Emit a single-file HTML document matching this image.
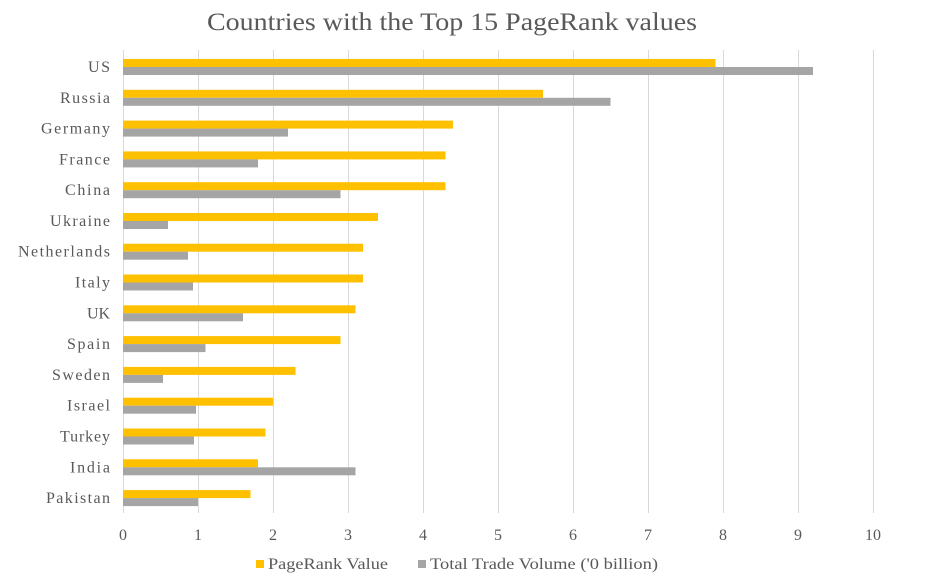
<!DOCTYPE html>
<html><head><style>body{margin:0;background:#fff}svg{display:block}text{font-family:"Liberation Serif",serif;fill:#595959}</style></head><body>
<svg width="925" height="584" viewBox="0 0 925 584">
<text x="207" y="30" font-size="25" textLength="490" lengthAdjust="spacingAndGlyphs">Countries with the Top 15 PageRank values</text>
<g stroke="#d9d9d9" stroke-width="1">
<line x1="123.5" y1="50" x2="123.5" y2="513"/><line x1="198.5" y1="50" x2="198.5" y2="513"/><line x1="273.5" y1="50" x2="273.5" y2="513"/><line x1="348.5" y1="50" x2="348.5" y2="513"/><line x1="423.5" y1="50" x2="423.5" y2="513"/><line x1="498.5" y1="50" x2="498.5" y2="513"/><line x1="573.5" y1="50" x2="573.5" y2="513"/><line x1="648.5" y1="50" x2="648.5" y2="513"/><line x1="723.5" y1="50" x2="723.5" y2="513"/><line x1="798.5" y1="50" x2="798.5" y2="513"/><line x1="873.5" y1="50" x2="873.5" y2="513"/>
</g>
<g fill="#ffc000">
<rect x="123" y="59" width="592.5" height="8"/><rect x="123" y="89.8" width="420" height="8"/><rect x="123" y="120.6" width="330" height="8"/><rect x="123" y="151.4" width="322.5" height="8"/><rect x="123" y="182.2" width="322.5" height="8"/><rect x="123" y="213" width="255" height="8"/><rect x="123" y="243.7" width="240" height="8"/><rect x="123" y="274.5" width="240" height="8"/><rect x="123" y="305.3" width="232.5" height="8"/><rect x="123" y="336.1" width="217.5" height="8"/><rect x="123" y="366.9" width="172.5" height="8"/><rect x="123" y="397.7" width="150" height="8"/><rect x="123" y="428.5" width="142.5" height="8"/><rect x="123" y="459.3" width="135" height="8"/><rect x="123" y="490.1" width="127.5" height="8"/>
</g>
<g fill="#a5a5a5">
<rect x="123" y="67" width="690" height="8"/><rect x="123" y="97.8" width="487.5" height="8"/><rect x="123" y="128.6" width="165" height="8"/><rect x="123" y="159.4" width="135" height="8"/><rect x="123" y="190.2" width="217.5" height="8"/><rect x="123" y="221" width="45" height="8"/><rect x="123" y="251.7" width="65" height="8"/><rect x="123" y="282.5" width="70" height="8"/><rect x="123" y="313.3" width="120" height="8"/><rect x="123" y="344.1" width="82.5" height="8"/><rect x="123" y="374.9" width="40" height="8"/><rect x="123" y="405.7" width="73" height="8"/><rect x="123" y="436.5" width="71" height="8"/><rect x="123" y="467.3" width="232.5" height="8"/><rect x="123" y="498.1" width="75" height="8"/>
</g>
<g font-size="16" lengthAdjust="spacingAndGlyphs">
<text x="88" y="72" textLength="22">US</text><text x="60" y="102.8" textLength="50">Russia</text><text x="41" y="133.6" textLength="69">Germany</text><text x="59" y="164.4" textLength="51">France</text><text x="65" y="195.2" textLength="45">China</text><text x="50" y="226" textLength="60">Ukraine</text><text x="18" y="256.7" textLength="92">Netherlands</text><text x="75" y="287.5" textLength="35">Italy</text><text x="87" y="318.3" textLength="23">UK</text><text x="67" y="349.1" textLength="43">Spain</text><text x="52" y="379.9" textLength="58">Sweden</text><text x="67" y="410.7" textLength="43">Israel</text><text x="60" y="441.5" textLength="50">Turkey</text><text x="70" y="472.3" textLength="40">India</text><text x="46" y="503.1" textLength="64">Pakistan</text>
</g>
<g font-size="16" text-anchor="middle">
<text x="123" y="540">0</text><text x="198" y="540">1</text><text x="273" y="540">2</text><text x="348" y="540">3</text><text x="423" y="540">4</text><text x="498" y="540">5</text><text x="573" y="540">6</text><text x="648" y="540">7</text><text x="723" y="540">8</text><text x="798" y="540">9</text><text x="873" y="540">10</text>
</g>
<rect x="256" y="560" width="8" height="8" fill="#ffc000"/>
<text x="268" y="569" font-size="16" textLength="120" lengthAdjust="spacingAndGlyphs">PageRank Value</text>
<rect x="418" y="560" width="8" height="8" fill="#a5a5a5"/>
<text x="430" y="569" font-size="16" textLength="228" lengthAdjust="spacingAndGlyphs">Total Trade Volume ('0 billion)</text>
</svg>
</body></html>
